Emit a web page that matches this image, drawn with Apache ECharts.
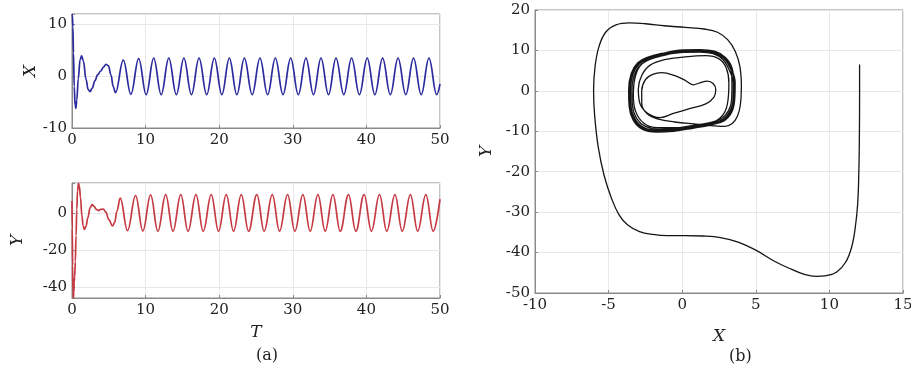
<!DOCTYPE html>
<html>
<head>
<meta charset="utf-8">
<script src="https://cdn.jsdelivr.net/npm/echarts@6/dist/echarts.min.js"></script>
<style>
  html, body { margin: 0; padding: 0; background: #ffffff; }
  #chart { width: 911px; height: 371px; }
</style>
</head>
<body>
<div id="chart"></div>
<script>
// ---- (a) top: X(T) ----
const xSeriesT = [0, 0.05, 0.12, 0.2, 0.3, 0.42, 0.52, 0.65, 0.85, 1.1, 1.31, 1.55, 1.9, 2.2, 2.45, 2.75, 3.1, 3.5, 3.9, 4.3, 4.62, 4.95, 5.3, 5.6, 5.9,
  6.97, 8.0, 9.06, 10.08, 11.1, 12.12, 13.15, 14.18, 15.2, 16.23, 17.26, 18.3, 19.34, 20.36, 21.38, 22.4, 23.42, 24.48,
  25.54, 26.58, 27.63, 28.67, 29.71, 30.75, 31.79, 32.81, 33.83, 34.85, 35.87, 36.93, 37.99, 39.05, 40.11, 41.15,
  42.2, 43.25, 44.3, 45.35, 46.4, 47.45, 48.5, 49.55, 50];
const xSeriesV = [12.0, 11.8, 9.5, 4.5, -2.0, -5.6, -6.2, -4.6, -0.5, 3.2, 3.9, 2.9, -0.6, -2.6, -3.0, -2.3, -0.9, 0.3, 1.0, 1.8, 2.3, 2.0, 0.2, -2.0, -3.2,
  3.1, -3.5, 3.4, -3.55, 3.5, -3.55, 3.5, -3.55, 3.5, -3.55, 3.5, -3.55, 3.5, -3.55, 3.5, -3.55, 3.5, -3.55,
  3.5, -3.55, 3.5, -3.55, 3.5, -3.55, 3.5, -3.55, 3.5, -3.55, 3.5, -3.55, 3.5, -3.55, 3.5, -3.55,
  3.5, -3.55, 3.5, -3.55, 3.5, -3.55, 3.5, -3.55, -1.5];

// ---- (a) bottom: Y(T) ----
const ySeriesT = [0, 0.04, 0.08, 0.13, 0.19, 0.25, 0.3, 0.36, 0.45, 0.55, 0.65, 0.75, 0.88, 1.0, 1.15, 1.35, 1.5, 1.67, 1.9, 2.15, 2.45, 2.72,
  3.0, 3.3, 3.57, 3.9, 4.26, 4.6, 5.0, 5.5, 5.8, 6.1, 6.55, 7.54, 8.64, 9.63, 10.68, 11.67, 12.73, 13.72, 14.78, 15.77,
  16.84, 17.83, 18.92, 19.91, 20.96, 21.95, 23.0, 23.99, 25.12, 26.11, 27.21, 28.2, 29.29, 30.28, 31.37, 32.36,
  33.41, 34.4, 35.45, 36.44, 37.57, 38.56, 39.69, 40.68, 41.78, 42.77, 43.88, 44.87, 45.98, 46.97, 48.08, 49.07, 50];
const ySeriesV = [6.5, -8, -28, -42, -45.8, -42.5, -37, -34.5, -26, -12, 2, 12, 16.0, 14.6, 8.5, -1.5, -6.5, -8.8, -7.2, -2.5, 2.8, 4.6,
  3.6, 2.0, 1.4, 2.0, 2.2, 0.6, -3.5, -6.9, -5.0, 1.0, 8.1, -9.4, 9.4, -9.6, 9.8, -9.7, 10, -9.7, 10, -9.7,
  10, -9.7, 10, -9.7, 10, -9.7, 10, -9.7, 10, -9.7, 10, -9.7, 10, -9.7, 10, -9.7,
  10, -9.7, 10, -9.7, 10, -9.7, 10, -9.7, 10, -9.7, 10, -9.7, 10, -9.7, 10, -9.7, 7.5];

// ---- (b) phase portrait: X vs Y ----
const phaseX = [
  12.05, 12.05, 12.04, 12.0, 11.92, 11.75, 11.5, 11.1, 10.5, 9.8, 9.1, 8.3, 7.4, 6.3, 5.0, 3.8, 2.6, 1.4, 0.2, -1.0, -2.0, -2.9, -3.7, -4.3,
  -4.8, -5.3, -5.7, -5.95, -6.02, -5.92, -5.65, -5.2, -4.5, -3.6, -2.5, -1.2, 0.2, 1.5, 2.4, 3.1, 3.6, 3.92, 4.02, 3.95, 3.75, 3.4, 2.9,
  2.0, 0.8, -0.5, -1.6, -2.4, -2.75, -2.75, -2.5, -2.0, -1.4, -0.6, 0.2, 0.75, 1.2, 1.7, 2.1, 2.28, 2.15, 1.6, 0.5, -0.6, -1.5,
  -2.4, -2.9, -2.98, -2.75, -2.2, -1.2, 0.2, 1.6, 2.5, 3.0, 3.17, 3.12, 2.85, 2.15, 0.9, -0.5, -1.7, -2.6, -3.15, -3.32, -3.22, -2.85,
  -2.0, -0.6, 1.0, 2.2, 2.95, 3.35,
  3.38, 3.36, 3.15, 2.65, 1.8, 0.7, -0.6, -1.65, -2.5, -3.1, -3.38, -3.42, -3.25, -2.8, -2.2, -1.3, -0.2, 1.2, 2.1, 2.78, 3.2,
  3.48, 3.46, 3.25, 2.75, 1.85, 0.7, -0.6, -1.7, -2.6, -3.2, -3.48, -3.52, -3.35, -2.9, -2.25, -1.3, -0.2, 1.2, 2.15, 2.85, 3.3,
  3.58, 3.56, 3.35, 2.85, 1.9, 0.7, -0.6, -1.75, -2.7, -3.3, -3.58, -3.62, -3.45, -3.0, -2.3, -1.3, -0.2, 1.2, 2.2, 2.95, 3.4,
  3.5, 3.48, 3.28, 2.78, 1.88, 0.7, -0.6, -1.72, -2.64, -3.24, -3.52, -3.56, -3.4, -2.95, -2.28, -1.3, -0.2, 1.2, 2.18, 2.9, 3.35,
  3.6, 3.57, 3.37, 2.87, 1.92, 0.72, -0.6, -1.76, -2.72, -3.33, -3.6, -3.64, -3.47, -3.02, -2.32, -1.35
];
const phaseY = [
  6.5, 0, -10, -20, -28, -34, -38.8, -42.4, -44.8, -45.7, -45.9, -45.4, -44.1, -42.2, -39.4, -37.4, -36.3, -35.9, -35.8, -35.8, -35.5, -34.8, -33.2, -30.6,
  -26.6, -21, -14, -6, 0, 6, 11, 14.5, 16.3, 16.8, 16.6, 16.1, 15.7, 15.3, 14.5, 12.6, 9.8, 6, 1, -3.5, -6.3, -8.1, -8.8,
  -8.6, -8.2, -7.7, -7.0, -5.6, -3.0, 0, 2.8, 4.1, 4.5, 3.9, 2.6, 1.5, 2.0, 2.4, 1.8, 0.3, -1.6, -3.2, -4.4, -5.6, -6.6,
  -5.4, -2.8, 0.5, 3.8, 6.3, 7.7, 8.4, 8.7, 7.9, 5.6, 2, -2, -5.5, -7.7, -8.6, -9.1, -9.1, -8.0, -5.2, -1.2, 3, 6.2,
  8.2, 9.3, 9.7, 9.3, 7.6, 4.5,
  1.9, -2, -4.9, -6.9, -7.9, -8.6, -9.3, -9.5, -8.8, -6.8, -3.7, 0, 4.0, 6.5, 7.8, 8.7, 9.5, 9.6, 9.2, 7.7, 5.1,
  2, -2, -5.0, -7.1, -8.2, -8.9, -9.6, -9.8, -9.1, -7.0, -3.8, 0, 4.1, 6.7, 8.0, 9.0, 9.8, 9.9, 9.5, 8.0, 5.3,
  2, -2, -5.2, -7.3, -8.4, -9.2, -9.9, -10.1, -9.4, -7.2, -3.9, 0, 4.2, 6.9, 8.3, 9.3, 10.1, 10.2, 9.8, 8.2, 5.5,
  2, -2, -5.1, -7.2, -8.3, -9.0, -9.7, -9.95, -9.25, -7.1, -3.85, 0, 4.15, 6.8, 8.15, 9.15, 9.95, 10.05, 9.65, 8.1, 5.4,
  2, -2, -5.25, -7.35, -8.45, -9.25, -10.0, -10.2, -9.5, -7.25, -3.95, 0, 4.25, 6.95, 8.35, 9.35
];

// axis ranges and tick steps
const tRange = [0, 50], tStep = 10;
const xRangeTop = [-10, 12], xStepTop = 10;
const yRangeBottom = [-45.6, 16.2], yLabelStep = 20;
const phaseXRange = [-10, 15], phaseXStep = 5;
const phaseYRange = [-50, 20], phaseYStep = 10;

const pairs = (a, b) => a.map((v, i) => [v, b[i]]);

const FONT = 'DejaVu Serif';
const frameColor = '#8a8a8a';
const gridColor = '#e8e8e8';
const txtColor = '#222222';

function xAx(grid, range, step, name, gap) {
  return {
    type: 'value', gridIndex: grid, min: range[0], max: range[1], interval: step,
    name: name, nameLocation: 'middle', nameGap: gap,
    nameTextStyle: { fontFamily: FONT, fontStyle: 'italic', fontSize: 17, color: txtColor },
    axisLine: { show: true, onZero: false, lineStyle: { color: frameColor } },
    axisTick: { show: true, inside: true, length: 3, lineStyle: { color: frameColor } },
    axisLabel: { fontFamily: FONT, fontSize: 15, color: txtColor, margin: 5 },
    splitLine: { show: true, lineStyle: { color: gridColor, width: 1 } }
  };
}
function yAx(grid, range, step, name, gap, labelStep) {
  const o = {
    type: 'value', gridIndex: grid, min: range[0], max: range[1],
    name: name, nameLocation: 'middle', nameGap: gap, nameRotate: 90,
    nameTextStyle: { fontFamily: FONT, fontStyle: 'italic', fontSize: 17, color: txtColor },
    axisLine: { show: true, onZero: false, lineStyle: { color: frameColor } },
    axisTick: { show: true, inside: true, length: 3, lineStyle: { color: frameColor } },
    axisLabel: { fontFamily: FONT, fontSize: 15, color: txtColor, margin: 5,
      formatter: v => (Math.abs(v / labelStep - Math.round(v / labelStep)) < 1e-6 ? String(Math.round(v)) : '') },
    splitLine: { show: true, lineStyle: { color: gridColor, width: 1 } }
  };
  if (step) o.interval = step; else o.splitNumber = 3;
  return o;
}

const chart = echarts.init(document.getElementById('chart'), null, { renderer: 'canvas' });
chart.setOption({
  animation: false,
  backgroundColor: '#ffffff',
  grid: [
    { left: 72, top: 14, width: 368, height: 114, show: true, borderColor: frameColor, borderWidth: 1, containLabel: false, outerBoundsMode: 'none' },
    { left: 72, top: 183, width: 368, height: 115, show: true, borderColor: frameColor, borderWidth: 1, containLabel: false, outerBoundsMode: 'none' },
    { left: 535, top: 10, width: 368, height: 283, show: true, borderColor: frameColor, borderWidth: 1, containLabel: false, outerBoundsMode: 'none' }
  ],
  xAxis: [
    xAx(0, tRange, tStep, '', 0),
    xAx(1, tRange, tStep, 'T', 26),
    xAx(2, phaseXRange, phaseXStep, 'X', 35)
  ],
  yAxis: [
    yAx(0, xRangeTop, xStepTop, 'X', 26, 10),
    yAx(1, yRangeBottom, null, 'Y', 46, yLabelStep),
    yAx(2, phaseYRange, phaseYStep, 'Y', 40, 10)
  ],
  graphic: [
    { type: 'text', left: 256, top: 348, style: { text: '(a)', font: '16px "DejaVu Serif"', fill: txtColor, textAlign: 'center' } },
    { type: 'text', left: 729, top: 349, style: { text: '(b)', font: '16px "DejaVu Serif"', fill: txtColor, textAlign: 'center' } }
  ],
  series: [
    { type: 'line', xAxisIndex: 0, yAxisIndex: 0, data: pairs(xSeriesT, xSeriesV), showSymbol: false, symbol: 'none',
      smooth: 0.4, smoothMonotone: 'x', lineStyle: { color: '#2b2b9e', width: 1.7 } },
    { type: 'line', xAxisIndex: 1, yAxisIndex: 1, data: pairs(ySeriesT, ySeriesV), showSymbol: false, symbol: 'none',
      smooth: 0.4, smoothMonotone: 'x', lineStyle: { color: '#c63a43', width: 1.7 } },
    { type: 'line', xAxisIndex: 2, yAxisIndex: 2, data: pairs(phaseX, phaseY), showSymbol: false, symbol: 'none',
      smooth: 0.4, lineStyle: { color: '#151515', width: 1.3 } }
  ]
});
</script>
</body>
</html>
